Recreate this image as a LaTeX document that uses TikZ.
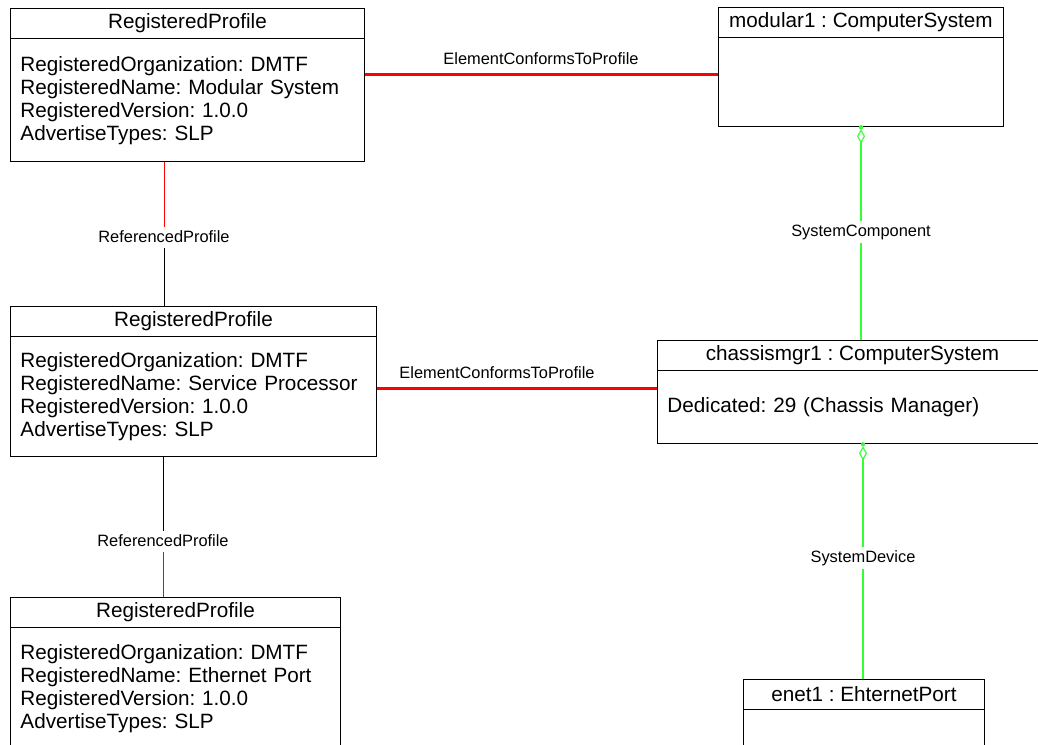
\documentclass[tikz,border=0pt]{standalone}
\usepackage{fontspec}
\setmainfont{Liberation Sans}
\usepackage{tikz}
\usepackage{xcolor}
\usetikzlibrary{positioning,arrows.meta}
\definecolor{linkred}{RGB}{255,0,0}
\definecolor{linkgreen}{RGB}{51,255,51}
\frenchspacing
\tikzset{
    class-title/.style = {draw, line width=0.9pt, rectangle, inner sep=0pt, minimum height=29.5pt, anchor=north west, font=\fontsize{20.7}{23}\selectfont},
    class-body/.style = {draw, line width=0.9pt, rectangle, inner xsep=10pt, inner ysep=0pt, align=left, font=\fontsize{20.7}{23}\selectfont},
    assoc-label/.style = {inner xsep=2pt, inner ysep=3pt, text height=12pt, text depth=3pt, font=\fontsize{16.4}{18}\selectfont},
    conform-line/.style = {draw=linkred, line width=3pt},
    ref-line/.style = {line width=0.9pt},
    member-line/.style = {draw=linkgreen, line width=1.1pt},
}

\begin{document}
\begin{tikzpicture}[x=1pt, y=-1pt]
\useasboundingbox (0,0) rectangle (1038,744);

\node[class-title, minimum width=354pt] (prof1) at (10,8) {RegisteredProfile};
\node[class-body, text width=334pt, minimum height=123pt, below=0pt of prof1] (prof1-body) {RegisteredOrganization: DMTF\\RegisteredName: Modular System\\RegisteredVersion: 1.0.0\\AdvertiseTypes: SLP};
\node[class-title, minimum width=366pt] (prof2) at (10,306) {RegisteredProfile};
\node[class-body, text width=346pt, minimum height=120pt, below=0pt of prof2] (prof2-body) {RegisteredOrganization: DMTF\\RegisteredName: Service Processor\\RegisteredVersion: 1.0.0\\AdvertiseTypes: SLP};
\node[class-title, minimum width=330pt] (prof3) at (10,597) {RegisteredProfile};
\node[class-body, text width=310pt, minimum height=122pt, below=0pt of prof3] (prof3-body) {RegisteredOrganization: DMTF\\RegisteredName: Ethernet Port\\RegisteredVersion: 1.0.0\\AdvertiseTypes: SLP};

\node[class-title, minimum width=285pt] (modular) at (718,7) {modular1 : ComputerSystem};
\node[class-body, text width=265pt, minimum height=89pt, below=0pt of modular] (modular-body) {};
\node[class-title, minimum width=390pt] (chassis) at (657,340) {chassismgr1 : ComputerSystem};
\node[class-body, text width=370pt, minimum height=73pt, below=0pt of chassis] (chassis-body) {Dedicated: 29 (Chassis Manager)};
\node[class-title, minimum width=241pt] (enet) at (743,679) {enet1 : EhternetPort};
\node[class-body, text width=221pt, minimum height=100pt, below=0pt of enet] (enet-body) {};

\coordinate (conf1-mid) at (541,74);
\coordinate (conf2-mid) at (497,388);
\node[assoc-label, above=3pt of conf1-mid] (conf1) {ElementConformsToProfile};
\node[assoc-label, above=3pt of conf2-mid] (conf2) {ElementConformsToProfile};
\node[assoc-label] (ref1) at (164,237.5) {ReferencedProfile};
\node[assoc-label] (ref2) at (163,541.5) {ReferencedProfile};
\node[assoc-label] (comp) at (861,232) {SystemComponent};
\node[assoc-label] (dev) at (863,558) {SystemDevice};

\draw[conform-line] (conf1-mid -| prof1-body.east) -- (conf1-mid -| modular-body.west);
\draw[conform-line] (conf2-mid -| prof2-body.east) -- (conf2-mid -| chassis-body.west);

\draw[ref-line, draw=linkred] (ref1 |- prof1-body.south) -- (ref1.north);
\draw[ref-line] (ref1.south) -- (ref1 |- prof2.north);
\draw[ref-line] (ref2 |- prof2-body.south) -- (ref2.north);
\draw[ref-line, draw=linkred] (ref2.south) -- (ref2 |- prof3.north);

\draw[member-line, -{Diamond[open, length=14pt, width=8pt]}, shorten >=2pt] (comp.north) -- (comp |- modular-body.south);
\fill[linkgreen] (comp |- modular-body.south) circle (2.2pt);
\draw[member-line] (comp.south) -- (comp |- chassis.north);
\draw[member-line, -{Diamond[open, length=14pt, width=8pt]}, shorten >=2pt] (dev.north) -- (dev |- chassis-body.south);
\fill[linkgreen] (dev |- chassis-body.south) circle (2.2pt);
\draw[member-line] (dev.south) -- (dev |- enet.north);
\end{tikzpicture}
\end{document}
